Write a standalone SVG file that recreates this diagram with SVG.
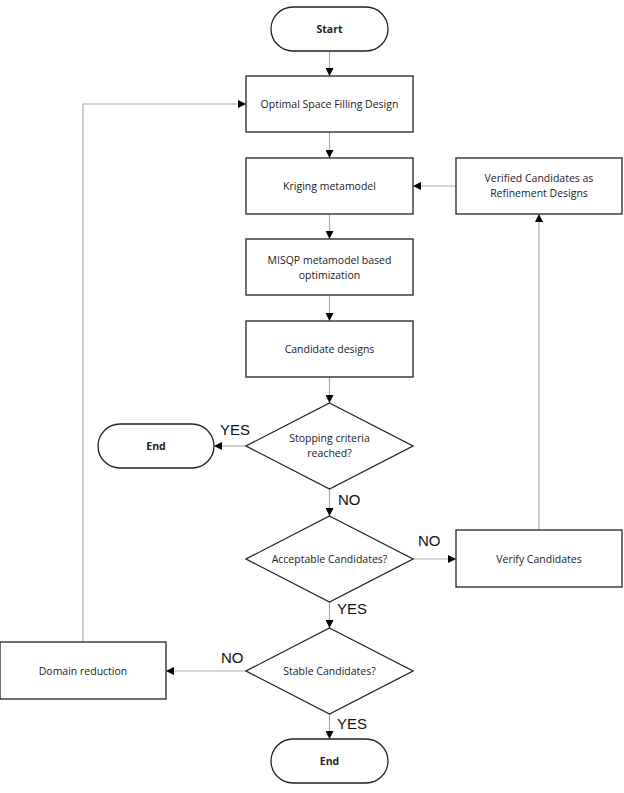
<svg xmlns="http://www.w3.org/2000/svg" width="624" height="793" viewBox="0 0 624 793">
<style>
.n{fill:#fff;stroke:#222;stroke-width:1.3}
.t{font-family:"Open Sans","Liberation Sans",sans-serif;font-size:10.5px;fill:#222;text-anchor:middle}
.b{font-weight:bold}
.l{font-family:"Liberation Sans",sans-serif;font-size:15px;fill:#111}
.c{fill:none;stroke:#aaa;stroke-width:1.2;marker-end:url(#a)}
</style>
<defs><marker id="a" markerWidth="8" markerHeight="8" refX="8" refY="4" orient="auto" markerUnits="userSpaceOnUse"><path d="M0,0L8,4L0,8z" fill="#000"/></marker></defs>
<rect width="624" height="793" fill="#fff"/>
<g id="connectors">
<path class="c" d="M329.5,51V76"/>
<path class="c" d="M329.5,132V158"/>
<path class="c" d="M329.5,214V239"/>
<path class="c" d="M329.5,295V321"/>
<path class="c" d="M329.5,377V403"/>
<path class="c" d="M246,446H214"/>
<path class="c" d="M329.5,489V516"/>
<path class="c" d="M413,559H456"/>
<path class="c" d="M539,530V214"/>
<path class="c" d="M456,186H413"/>
<path class="c" d="M329.5,602V628"/>
<path class="c" d="M246,671H166"/>
<path class="c" d="M83,642V104H246"/>
<path class="c" d="M329.5,714V739"/>
</g>
<g id="start"><rect class="n" x="271" y="7" width="117" height="44" rx="22"/><text class="t b" x="329.5" y="33">Start</text></g>
<g id="osfd"><rect class="n" x="246" y="76" width="167" height="56"/><text class="t" x="329.5" y="108">Optimal Space Filling Design</text></g>
<g id="kriging"><rect class="n" x="246" y="158" width="167" height="56"/><text class="t" x="329.5" y="190">Kriging metamodel</text></g>
<g id="refine"><rect class="n" x="456" y="158" width="166" height="56"/><text class="t" x="539" y="182">Verified Candidates as</text><text class="t" x="539" y="197">Refinement Designs</text></g>
<g id="misqp"><rect class="n" x="246" y="239" width="167" height="56"/><text class="t" x="329.5" y="264">MISQP metamodel based</text><text class="t" x="329.5" y="279">optimization</text></g>
<g id="cand"><rect class="n" x="246" y="321" width="167" height="56"/><text class="t" x="329.5" y="353">Candidate designs</text></g>
<g id="stop"><path class="n" d="M329.5,403L413,446L329.5,489L246,446z"/><text class="t" x="329.5" y="442">Stopping criteria</text><text class="t" x="329.5" y="457">reached?</text></g>
<g id="end1"><rect class="n" x="98" y="424" width="116" height="44" rx="22"/><text class="t b" x="156" y="450">End</text></g>
<g id="accept"><path class="n" d="M329.5,516L413,559L329.5,602L246,559z"/><text class="t" x="329.5" y="563">Acceptable Candidates?</text></g>
<g id="verify"><rect class="n" x="456" y="530" width="166" height="57"/><text class="t" x="539" y="563">Verify Candidates</text></g>
<g id="stable"><path class="n" d="M329.5,628L413,671L329.5,714L246,671z"/><text class="t" x="329.5" y="675">Stable Candidates?</text></g>
<g id="domain"><rect class="n" x="0" y="642" width="166" height="57"/><text class="t" x="83" y="675">Domain reduction</text></g>
<g id="end2"><rect class="n" x="271" y="739" width="117" height="44" rx="22"/><text class="t b" x="329.5" y="765">End</text></g>
<g id="labels">
<text class="l" x="220" y="435">YES</text>
<text class="l" x="338" y="505">NO</text>
<text class="l" x="418" y="546">NO</text>
<text class="l" x="337" y="614">YES</text>
<text class="l" x="221" y="663">NO</text>
<text class="l" x="337" y="729">YES</text>
</g>
</svg>
